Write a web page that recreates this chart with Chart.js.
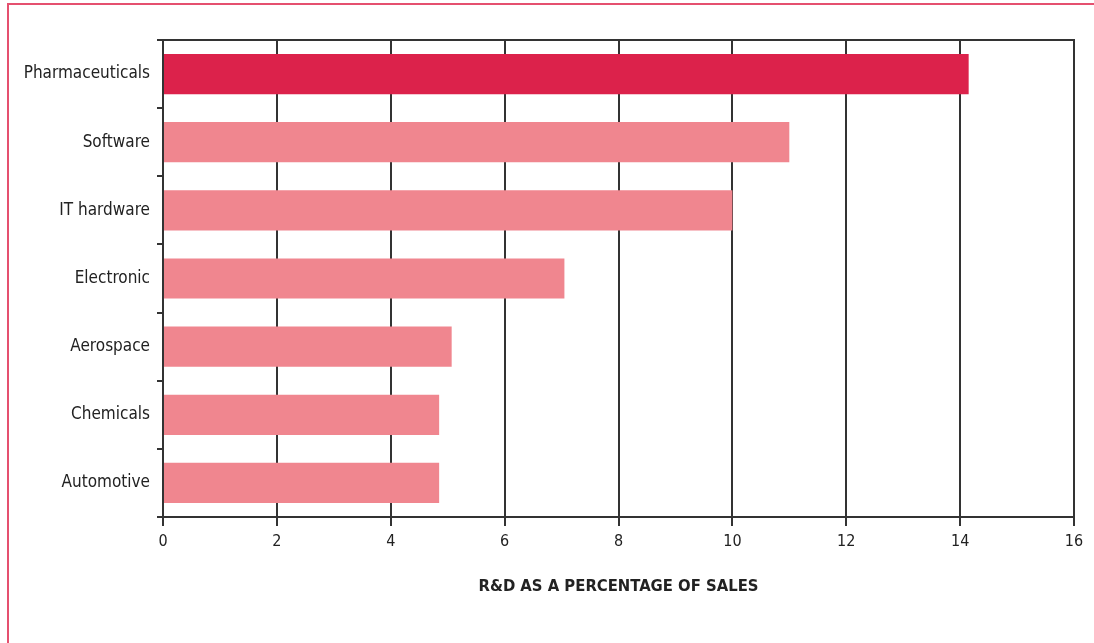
<!DOCTYPE html>
<html>
<head>
<meta charset="utf-8">
<style>
  html, body { margin: 0; padding: 0; background: #ffffff; overflow: hidden; }
  #wrap { position: relative; width: 1094px; height: 643px; }
  #frame { position: absolute; left: 7px; top: 3px; width: 1200px; height: 800px; border: 2px solid #e5506f; box-sizing: border-box; pointer-events: none; }
  canvas { position: absolute; left: 0; top: 0; }
</style>
<script src="https://cdn.jsdelivr.net/npm/chart.js@4/dist/chart.umd.min.js"></script>
</head>
<body>
<div id="wrap">
  <canvas id="c" width="1094" height="643"></canvas>
  <div id="frame"></div>
</div>
<script>
const categories = ["Pharmaceuticals", "Software", "IT hardware", "Electronic", "Aerospace", "Chemicals", "Automotive"];
const values = [14.15, 11.0, 10.0, 7.05, 5.07, 4.85, 4.85];
const barColors = ["#dc224b", "#f0868f", "#f0868f", "#f0868f", "#f0868f", "#f0868f", "#f0868f"];
const xTicks = [0, 2, 4, 6, 8, 10, 12, 14, 16];
const xTitle = "R&D AS A PERCENTAGE OF SALES";

const FONT = "'DejaVu Sans Condensed', 'Liberation Sans', sans-serif";
const gridColor = "#333333";

new Chart(document.getElementById('c'), {
  type: 'bar',
  data: {
    labels: categories,
    datasets: [{
      data: values,
      backgroundColor: barColors,
      borderWidth: 0,
      categoryPercentage: 1.0,
      barPercentage: 0.59
    }]
  },
  options: {
    indexAxis: 'y',
    responsive: false,
    animation: false,
    layout: { padding: { left: 0, top: 40, right: 20, bottom: 0 } },
    plugins: { legend: { display: false }, tooltip: { enabled: false } },
    scales: {
      x: {
        position: 'bottom',
        min: 0, max: 16,
        afterBuildTicks: (s) => { s.ticks = xTicks.map(v => ({ value: v })); },
        grid: { color: gridColor, lineWidth: 2, drawTicks: true, tickLength: 9, tickColor: gridColor },
        border: { display: true, color: gridColor, width: 2 },
        ticks: { color: '#222', font: { family: FONT, size: 16 }, padding: 6, maxRotation: 0, autoSkip: false },
        title: { display: true, text: xTitle, color: '#222', font: { family: FONT, size: 16.5, weight: 'bold' }, padding: { top: 0, bottom: 46 } },
        afterFit: (s) => { s.height = 126; }
      },
      x2: {
        position: 'top',
        min: 0, max: 16,
        grid: { display: true, drawOnChartArea: false, drawTicks: false },
        border: { display: true, color: gridColor, width: 2 },
        ticks: { display: false },
        afterFit: (s) => { s.height = 0; }
      },
      y: {
        grid: { display: true, offset: true, drawOnChartArea: false, drawTicks: true, tickLength: 6, color: gridColor, lineWidth: 2 },
        border: { display: true, color: gridColor, width: 2 },
        ticks: { color: '#222', font: { family: FONT, size: 17 }, padding: 7 },
        afterFit: (s) => { s.width = 163; }
      }
    }
  }
});
</script>
</body>
</html>
